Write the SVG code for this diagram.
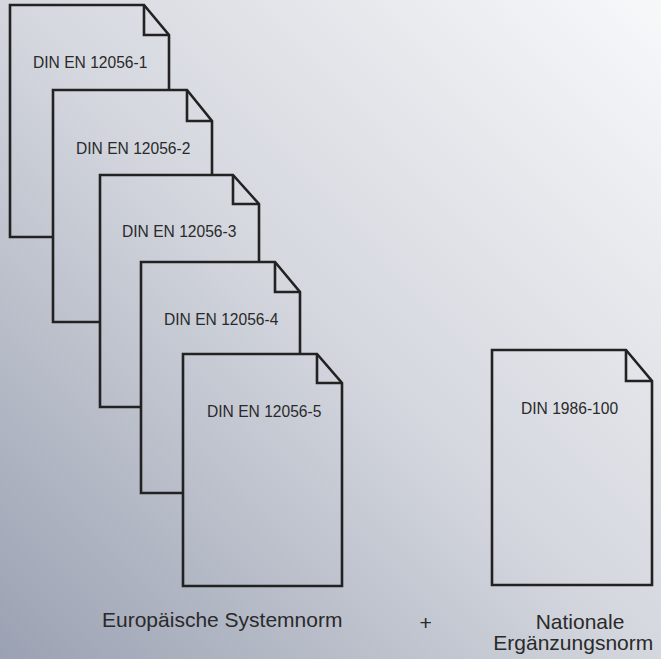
<svg xmlns="http://www.w3.org/2000/svg" width="661" height="659" viewBox="0 0 661 659">
<defs>
<linearGradient id="bg" gradientUnits="userSpaceOnUse" x1="661" y1="0" x2="0" y2="659">
<stop offset="0" stop-color="#f7f8fa"/>
<stop offset="0.5" stop-color="#d4d7de"/>
<stop offset="1" stop-color="#9aa1b2"/>
</linearGradient>
</defs>
<style>
.doc{fill:url(#bg);stroke:#222;stroke-width:2.6;stroke-linejoin:miter}
.fold{fill:none;stroke:#222;stroke-width:2.6;stroke-linejoin:miter}
.lbl{font-family:"Liberation Sans",Arial,sans-serif;font-size:15.6px;fill:#2a2a2a}
.cap{font-family:"Liberation Sans",Arial,sans-serif;font-size:21px;fill:#2a2a2a}
</style>
<rect x="0" y="0" width="661" height="659" fill="url(#bg)"/>
<g id="connectors"/>
<g id="doc1">
<path class="doc" d="M10,5 H144 L169,35 V237 H10 Z"/>
<path class="fold" d="M144,5 V35 H169"/>
<text class="lbl" x="33" y="68">DIN EN 12056-1</text>
</g>
<g id="doc2">
<path class="doc" d="M53,90 H187 L212,121 V322 H53 Z"/>
<path class="fold" d="M187,90 V121 H212"/>
<text class="lbl" x="76" y="154">DIN EN 12056-2</text>
</g>
<g id="doc3">
<path class="doc" d="M100,175 H233 L259,204 V407 H100 Z"/>
<path class="fold" d="M233,175 V204 H259"/>
<text class="lbl" x="122" y="237">DIN EN 12056-3</text>
</g>
<g id="doc4">
<path class="doc" d="M141,262 H275 L300,292 V493 H141 Z"/>
<path class="fold" d="M275,262 V292 H300"/>
<text class="lbl" x="164" y="325">DIN EN 12056-4</text>
</g>
<g id="doc5">
<path class="doc" d="M183,354 H317 L342,383 V586 H183 Z"/>
<path class="fold" d="M317,354 V383 H342"/>
<text class="lbl" x="207" y="417">DIN EN 12056-5</text>
</g>
<g id="doc6">
<path class="doc" d="M492,350 H626 L652,381 V585 H492 Z"/>
<path class="fold" d="M626,350 V381 H652"/>
<text class="lbl" x="521" y="414">DIN 1986-100</text>
</g>
<g id="captions">
<text class="cap" x="102" y="627">Europäische Systemnorm</text>
<text class="cap" x="425.7" y="630" text-anchor="middle">+</text>
<text class="cap" x="580" y="629" text-anchor="middle">Nationale</text>
<text class="cap" x="573.3" y="650" text-anchor="middle">Ergänzungsnorm</text>
</g>
</svg>
